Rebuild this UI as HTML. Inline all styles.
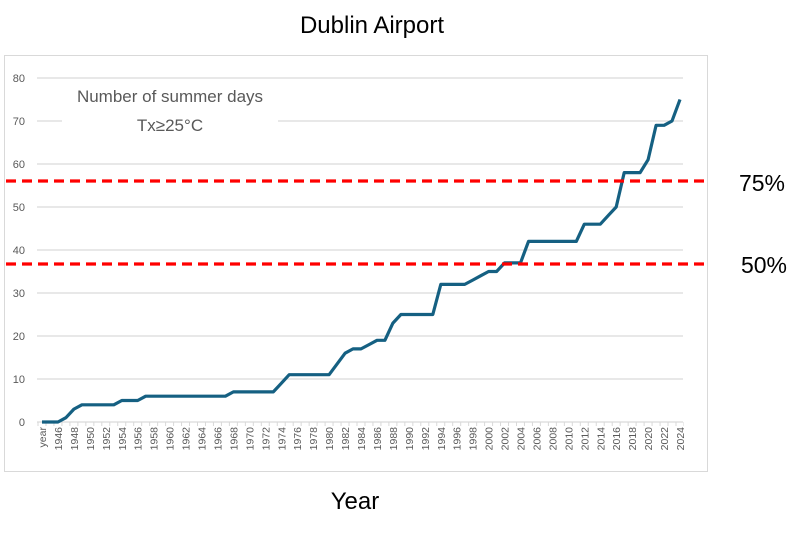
<!DOCTYPE html>
<html><head><meta charset="utf-8"><style>
html,body{margin:0;padding:0;background:#fff;}
svg{display:block;font-family:"Liberation Sans",sans-serif;}
</style></head><body>
<svg width="807" height="536" viewBox="0 0 807 536">
<text x="372" y="33" font-size="24" text-anchor="middle" fill="#000">Dublin Airport</text>
<rect x="4.5" y="55.5" width="703" height="416" fill="#fff" stroke="#d9d9d9"/>
<g stroke="#d9d9d9" stroke-width="1.3">
<line x1="37" x2="683" y1="78" y2="78"/>
<line x1="37" x2="683" y1="121" y2="121"/>
<line x1="37" x2="683" y1="164" y2="164"/>
<line x1="37" x2="683" y1="207" y2="207"/>
<line x1="37" x2="683" y1="250" y2="250"/>
<line x1="37" x2="683" y1="293" y2="293"/>
<line x1="37" x2="683" y1="336" y2="336"/>
<line x1="37" x2="683" y1="379" y2="379"/>
<line x1="37" x2="683" y1="422" y2="422"/>
</g>
<line x1="37.5" x2="684" y1="424" y2="424" stroke="#d9d9d9" stroke-width="4" stroke-dasharray="1 6.975"/>
<rect x="62" y="84" width="216" height="50" fill="#fff"/>
<g font-size="11" fill="#595959" text-anchor="end">
<text x="25" y="82">80</text><text x="25" y="125">70</text><text x="25" y="168">60</text>
<text x="25" y="211">50</text><text x="25" y="254">40</text><text x="25" y="297">30</text>
<text x="25" y="340">20</text><text x="25" y="383">10</text><text x="25" y="426">0</text>
</g>
<g font-size="17" fill="#595959" text-anchor="middle">
<text x="170" y="102">Number of summer days</text>
<text x="170" y="131">Tx≥25°C</text>
</g>
<g font-size="10.5" fill="#595959" text-anchor="end">
<text transform="translate(46,427) rotate(-90)">year</text>
<text transform="translate(61.95,427) rotate(-90)">1946</text>
<text transform="translate(77.9,427) rotate(-90)">1948</text>
<text transform="translate(93.85,427) rotate(-90)">1950</text>
<text transform="translate(109.8,427) rotate(-90)">1952</text>
<text transform="translate(125.75,427) rotate(-90)">1954</text>
<text transform="translate(141.7,427) rotate(-90)">1956</text>
<text transform="translate(157.65,427) rotate(-90)">1958</text>
<text transform="translate(173.6,427) rotate(-90)">1960</text>
<text transform="translate(189.55,427) rotate(-90)">1962</text>
<text transform="translate(205.5,427) rotate(-90)">1964</text>
<text transform="translate(221.45,427) rotate(-90)">1966</text>
<text transform="translate(237.4,427) rotate(-90)">1968</text>
<text transform="translate(253.35,427) rotate(-90)">1970</text>
<text transform="translate(269.3,427) rotate(-90)">1972</text>
<text transform="translate(285.25,427) rotate(-90)">1974</text>
<text transform="translate(301.2,427) rotate(-90)">1976</text>
<text transform="translate(317.15,427) rotate(-90)">1978</text>
<text transform="translate(333.1,427) rotate(-90)">1980</text>
<text transform="translate(349.05,427) rotate(-90)">1982</text>
<text transform="translate(365,427) rotate(-90)">1984</text>
<text transform="translate(380.95,427) rotate(-90)">1986</text>
<text transform="translate(396.9,427) rotate(-90)">1988</text>
<text transform="translate(412.85,427) rotate(-90)">1990</text>
<text transform="translate(428.8,427) rotate(-90)">1992</text>
<text transform="translate(444.75,427) rotate(-90)">1994</text>
<text transform="translate(460.7,427) rotate(-90)">1996</text>
<text transform="translate(476.65,427) rotate(-90)">1998</text>
<text transform="translate(492.6,427) rotate(-90)">2000</text>
<text transform="translate(508.55,427) rotate(-90)">2002</text>
<text transform="translate(524.5,427) rotate(-90)">2004</text>
<text transform="translate(540.45,427) rotate(-90)">2006</text>
<text transform="translate(556.4,427) rotate(-90)">2008</text>
<text transform="translate(572.35,427) rotate(-90)">2010</text>
<text transform="translate(588.3,427) rotate(-90)">2012</text>
<text transform="translate(604.25,427) rotate(-90)">2014</text>
<text transform="translate(620.2,427) rotate(-90)">2016</text>
<text transform="translate(636.15,427) rotate(-90)">2018</text>
<text transform="translate(652.1,427) rotate(-90)">2020</text>
<text transform="translate(668.05,427) rotate(-90)">2022</text>
<text transform="translate(684,427) rotate(-90)">2024</text>
</g>
<polyline fill="none" stroke="#156082" stroke-width="3.2" stroke-linejoin="round" points="42,422 58,422 65.9,417.7 73.9,409.1 81.9,404.8 113.8,404.8 121.8,400.5 137.7,400.5 145.7,396.2 225.4,396.2 233.4,391.9 273.3,391.9 281.3,383.3 289.2,374.7 329.1,374.7 345.1,353.2 353,348.9 361,348.9 369,344.6 377,340.3 384.9,340.3 392.9,323.1 400.9,314.5 432.8,314.5 440.8,284.4 464.7,284.4 472.7,280.1 480.6,275.8 488.6,271.5 496.6,271.5 504.6,262.9 520.5,262.9 528.5,241.4 576.3,241.4 584.3,224.2 600.3,224.2 608.2,215.6 616.2,207 624.2,172.6 640.1,172.6 648.1,159.7 656.1,125.3 664.1,125.3 672,121 680,99.5"/>
<g stroke="#ff0000" stroke-width="3.2" stroke-dasharray="10,6">
<line x1="6" x2="706" y1="181" y2="181"/>
<line x1="6" x2="706" y1="264" y2="264"/>
</g>
<text x="762" y="191" font-size="23" text-anchor="middle" fill="#000">75%</text>
<text x="764" y="273" font-size="23" text-anchor="middle" fill="#000">50%</text>
<text x="355" y="509" font-size="24" text-anchor="middle" fill="#000">Year</text>
</svg>
</body></html>
